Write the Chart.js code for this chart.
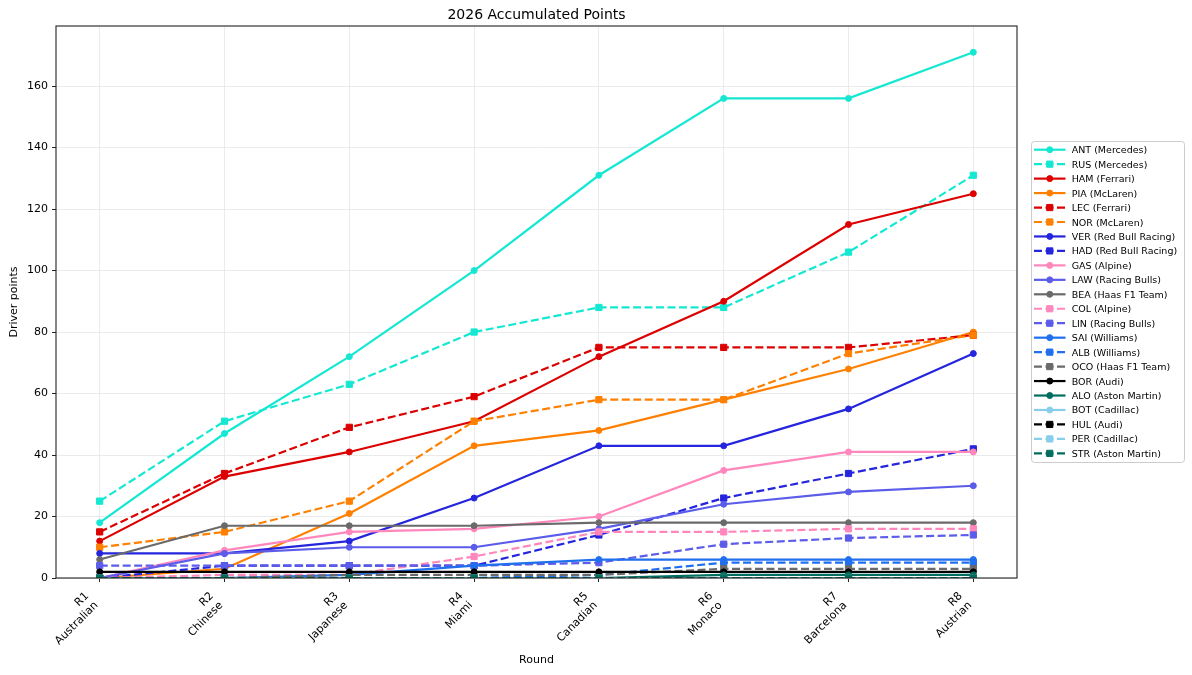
<!DOCTYPE html>
<html>
<head>
<meta charset="utf-8">
<script src="https://cdn.jsdelivr.net/npm/chart.js@4.4.1/dist/chart.umd.min.js"></script>
<style>
html,body{margin:0;padding:0;background:#fff;}
canvas{display:block;}
</style>
</head>
<body>
<canvas id="c" width="1192" height="675"></canvas>
<script>
// ---- Data ----
const rounds = ['R1','R2','R3','R4','R5','R6','R7','R8'];
const grandPrix = ['Australian','Chinese','Japanese','Miami','Canadian','Monaco','Barcelona','Austrian'];
const yTickValues = [0,20,40,60,80,100,120,140,160];

const ANT = [18,47,72,100,131,156,156,171];
const RUS = [25,51,63,80,88,88,106,131];
const HAM = [12,33,41,51,72,90,115,125];
const PIA = [0,3,21,43,48,58,68,80];
const LEC = [15,34,49,59,75,75,75,79];
const NOR = [10,15,25,51,58,58,73,79];
const VER = [8,8,12,26,43,43,55,73];
const HAD = [0,4,4,4,14,26,34,42];
const GAS = [0,9,15,16,20,35,41,41];
const LAW = [0,8,10,10,16,24,28,30];
const BEA = [6,17,17,17,18,18,18,18];
const COL = [0,1,1,7,15,15,16,16];
const LIN = [4,4,4,4,5,11,13,14];
const SAI = [0,0,1,4,6,6,6,6];
const ALB = [0,0,0,0,1,5,5,5];
const OCO = [0,0,1,1,1,3,3,3];
const BOR = [2,2,2,2,2,2,2,2];
const ALO = [0,0,0,0,0,1,1,1];
const BOT = [0,0,0,0,0,0,0,0];
const HUL = [0,0,0,0,0,0,0,0];
const PER = [0,0,0,0,0,0,0,0];
const STR = [0,0,0,0,0,0,0,0];

const driverLabels = ['ANT (Mercedes)','RUS (Mercedes)','HAM (Ferrari)','PIA (McLaren)','LEC (Ferrari)','NOR (McLaren)',
  'VER (Red Bull Racing)','HAD (Red Bull Racing)','GAS (Alpine)','LAW (Racing Bulls)','BEA (Haas F1 Team)','COL (Alpine)',
  'LIN (Racing Bulls)','SAI (Williams)','ALB (Williams)','OCO (Haas F1 Team)','BOR (Audi)','ALO (Aston Martin)',
  'BOT (Cadillac)','HUL (Audi)','PER (Cadillac)','STR (Aston Martin)'];
const driverSeries = [ANT,RUS,HAM,PIA,LEC,NOR,VER,HAD,GAS,LAW,BEA,COL,LIN,SAI,ALB,OCO,BOR,ALO,BOT,HUL,PER,STR];
const driverDashed = [false,true,false,false,true,true,false,true,false,false,false,true,true,false,true,true,false,false,false,true,true,true];

// ---- Styles ----
const teamColor = {
  'Mercedes':'#14E8D2','Ferrari':'#DC0000','McLaren':'#FF8000','Red Bull Racing':'#2525DD',
  'Alpine':'#FF87BC','Racing Bulls':'#5C5CEA','Haas F1 Team':'#6A6A6A','Williams':'#1F6FEF',
  'Audi':'#000000','Aston Martin':'#006E5E','Cadillac':'#87CEEB'
};
const FONT = '"DejaVu Sans", "Liberation Sans", sans-serif';
const DASH = [8, 3.5];
const N = driverSeries.length;

const datasets = driverSeries.map((vals, i) => {
  const team = driverLabels[i].match(/\((.*)\)/)[1];
  const col = teamColor[team];
  const dashed = driverDashed[i];
  return {
    label: driverLabels[i],
    data: vals.map((v, j) => ({x: j, y: v})),
    borderColor: col,
    backgroundColor: col,
    borderWidth: 2.2,
    borderDash: dashed ? DASH : [],
    pointStyle: dashed ? 'rect' : 'circle',
    pointRadius: dashed ? 4.4 : 3,
    pointHoverRadius: dashed ? 4.4 : 3,
    pointBorderWidth: 1,
    pointBackgroundColor: col,
    pointBorderColor: col,
    tension: 0,
    clip: 0,
    order: N - i,
    _dashed: dashed
  };
});

const framePlugin = {
  id: 'framePlugin',
  afterDatasetsDraw(chart) {
    const {ctx, chartArea: a} = chart;
    ctx.save();
    ctx.strokeStyle = '#222';
    ctx.lineWidth = 1.1;
    ctx.setLineDash([]);
    ctx.strokeRect(a.left, a.top, a.right - a.left, a.bottom - a.top);
    ctx.restore();
  },
  afterDraw(chart) {
    const {ctx, chartArea: a} = chart;
    ctx.save();
    // Title
    ctx.fillStyle = '#000';
    ctx.font = '14px ' + FONT;
    ctx.textAlign = 'center';
    ctx.textBaseline = 'alphabetic';
    ctx.fillText('2026 Accumulated Points', (a.left + a.right) / 2, 19);

    // Legend
    const bx = 1031.5, by = 141.5, bw = 153, bh = 321;
    ctx.beginPath();
    if (ctx.roundRect) ctx.roundRect(bx, by, bw, bh, 3); else ctx.rect(bx, by, bw, bh);
    ctx.fillStyle = 'rgba(255,255,255,0.85)';
    ctx.fill();
    ctx.strokeStyle = '#cccccc';
    ctx.lineWidth = 1;
    ctx.stroke();

    const y0 = 149.7, step = 14.46;
    chart.data.datasets.forEach((ds, i) => {
      const y = y0 + i * step;
      ctx.save();
      ctx.strokeStyle = ds.borderColor;
      ctx.lineWidth = 2.2;
      ctx.setLineDash(ds._dashed ? DASH : []);
      ctx.beginPath();
      ctx.moveTo(1034, y);
      ctx.lineTo(1065.5, y);
      ctx.stroke();
      ctx.setLineDash([]);
      ctx.fillStyle = ds.borderColor;
      ctx.lineWidth = 1;
      const cx = 1049.75;
      ctx.beginPath();
      if (ds._dashed) {
        ctx.rect(cx - 3.1, y - 3.1, 6.2, 6.2);
      } else {
        ctx.arc(cx, y, 3, 0, Math.PI * 2);
      }
      ctx.fill();
      ctx.stroke();
      ctx.restore();
      ctx.fillStyle = '#000';
      ctx.font = '9.5px ' + FONT;
      ctx.textAlign = 'left';
      ctx.textBaseline = 'alphabetic';
      ctx.fillText(ds.label, 1071.7, y + 3.5);
    });
    ctx.restore();
  }
};

new Chart(document.getElementById('c'), {
  type: 'line',
  data: { datasets },
  options: {
    responsive: false,
    animation: false,
    devicePixelRatio: 1,
    layout: { padding: { left: 0, right: 175, top: 26, bottom: 0 } },
    plugins: {
      legend: { display: false },
      title: { display: false },
      tooltip: { enabled: false }
    },
    scales: {
      x: {
        type: 'linear',
        min: -0.35,
        max: 7.35,
        afterBuildTicks(scale) { scale.ticks = rounds.map((_, i) => ({ value: i })); },
        afterFit(scale) { scale.height = 97; scale.paddingLeft = 0; scale.paddingRight = 0; },
        border: { display: false },
        grid: { color: '#e6e6e6', lineWidth: 0.8, tickLength: 4, tickColor: '#222', tickWidth: 1 },
        ticks: {
          autoSkip: false,
          minRotation: 45,
          maxRotation: 45,
          padding: 7.6,
          labelOffset: -12.6,
          color: '#000',
          font: { family: FONT, size: 11 },
          callback: (value) => [rounds[value], grandPrix[value]]
        },
        title: { display: true, text: 'Round', color: '#000', font: { family: FONT, size: 11 }, padding: { top: 0, bottom: 8.4 } }
      },
      y: {
        type: 'linear',
        min: 0,
        max: 179.55,
        afterBuildTicks(scale) { scale.ticks = yTickValues.map(v => ({ value: v })); },
        afterFit(scale) { scale.width = 56; scale.paddingTop = 0; scale.paddingBottom = 0; },
        border: { display: false },
        grid: { color: '#e6e6e6', lineWidth: 0.8, tickLength: 4, tickColor: '#222', tickWidth: 1 },
        ticks: {
          padding: 4,
          color: '#000',
          font: { family: FONT, size: 11 },
          includeBounds: false
        },
        title: { display: true, text: 'Driver points', color: '#000', font: { family: FONT, size: 11 }, padding: { top: 7.4, bottom: 0 } }
      }
    }
  },
  plugins: [framePlugin]
});
</script>
</body>
</html>
